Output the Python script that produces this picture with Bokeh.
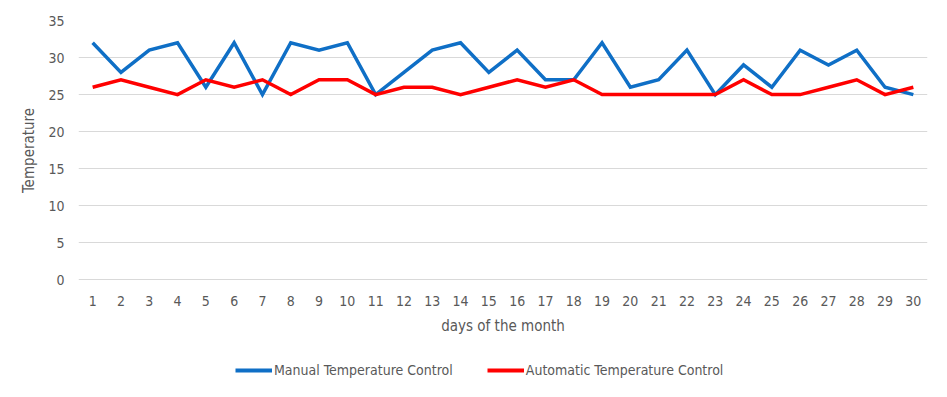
from bokeh.plotting import figure
from bokeh.layouts import column
from bokeh.models import FactorRange, Range1d, Legend, LegendItem, FixedTicker
from bokeh.embed import file_html
from bokeh.resources import INLINE

days = [str(d) for d in range(1, 31)]
manual = [32, 28, 31, 32, 26, 32, 25, 32, 31, 32, 25, 28, 31, 32, 28,
          31, 27, 27, 32, 26, 27, 31, 25, 29, 26, 31, 29, 31, 26, 25]
automatic = [26, 27, 26, 25, 27, 26, 27, 25, 27, 27, 25, 26, 26, 25, 26,
             27, 26, 27, 25, 25, 25, 25, 25, 27, 25, 25, 26, 27, 25, 26]
y_ticks = [0, 5, 10, 15, 20, 25, 30, 35]
series_names = ["Manual Temperature Control", "Automatic Temperature Control"]
series_colors = ["#0F6FC6", "#FF0000"]

FONT = "DejaVu Sans Condensed"
TXT = "#595959"

p = figure(width=931, height=345, output_backend="svg", toolbar_location=None,
           x_range=FactorRange(*days, range_padding=0), y_range=Range1d(-0.08, 35),
           min_border_left=78, min_border_right=4, min_border_top=20,
           min_border_bottom=65)
p.outline_line_color = None

p.line(days, manual, line_color=series_colors[0], line_width=3.5, line_join="miter")
p.line(days, automatic, line_color=series_colors[1], line_width=3.5, line_join="miter")

for ax in (p.xaxis[0], p.yaxis[0]):
    ax.axis_line_color = None
    ax.major_tick_line_color = None
    ax.minor_tick_line_color = None
    ax.major_label_text_font = FONT
    ax.major_label_text_color = TXT
    ax.major_label_text_font_size = "14px"
    ax.axis_label_text_font = FONT
    ax.axis_label_text_color = TXT
    ax.axis_label_text_font_size = "15px"
    ax.axis_label_text_font_style = "normal"

p.xaxis.axis_label = "days of the month"
p.xaxis.major_label_standoff = 9
p.xaxis.axis_label_standoff = 8
p.yaxis.axis_label = "Temperature"
p.yaxis.major_label_standoff = 8
p.yaxis.axis_label_standoff = 7
p.yaxis.ticker = FixedTicker(ticks=y_ticks)

p.xgrid.grid_line_color = None
p.ygrid.grid_line_color = "#d9d9d9"
p.ygrid.grid_line_width = 1

# legend strip below the chart (series drawn outside its visible range)
lg = figure(width=931, height=36, output_backend="svg", toolbar_location=None,
            x_range=FactorRange(*days), y_range=Range1d(100, 101), min_border=0,
            x_axis_location=None, y_axis_location=None)
lg.grid.visible = False
lg.outline_line_color = None
items = []
for name, col, vals in zip(series_names, series_colors, [manual, automatic]):
    r = lg.line(days, vals, line_color=col, line_width=4)
    items.append(LegendItem(label=name, renderers=[r]))
legend = Legend(items=items, orientation="horizontal", location=(157, 3),
                label_text_font=FONT, label_text_color=TXT, label_text_font_size="14px",
                glyph_width=37, glyph_height=16, label_height=16,
                label_standoff=2, spacing=34, border_line_color=None,
                background_fill_alpha=0, margin=0, padding=0)
lg.add_layout(legend, "center")

layout = column(p, lg, spacing=0)
open("out.html", "w").write(file_html(layout, INLINE))
